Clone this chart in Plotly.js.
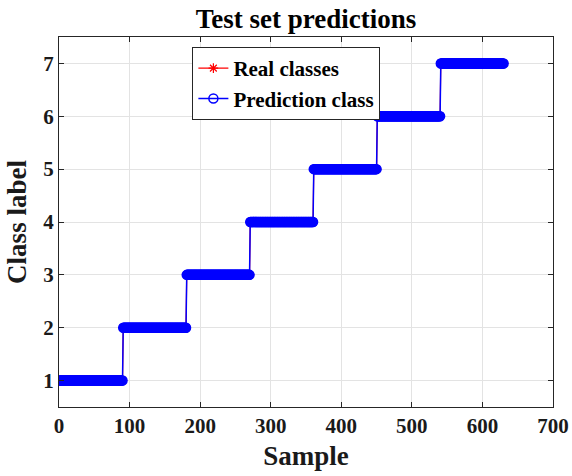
<!DOCTYPE html>
<html>
<head>
<meta charset="utf-8">
<script src="https://cdn.plot.ly/plotly-3.0.1.min.js"></script>
<style>
  html, body { margin: 0; padding: 0; background: #fff; }
  #chart { width: 572px; height: 476px; }
</style>
</head>
<body>
<div id="chart"></div>
<script>
// Test set: each class occupies a contiguous block of samples
const classLabels = [1, 2, 3, 4, 5, 6, 7];
const samplesPerClass = [90, 90, 90, 90, 90, 90, 90];
// Predicted label for each block (every block predicted correctly)
const predictedLabels = [1, 2, 3, 4, 5, 6, 7];
const xTicks = [0, 100, 200, 300, 400, 500, 600, 700];
const yTicks = [1, 2, 3, 4, 5, 6, 7];

// Expand the per-block labels into one value per sample
function expandRuns(labels, counts) {
  const out = [];
  labels.forEach((v, i) => { for (let k = 0; k < counts[i]; k++) out.push(v); });
  return out;
}
const realY = expandRuns(classLabels, samplesPerClass);
const predY = expandRuns(predictedLabels, samplesPerClass);
const sampleIdx = realY.map((_, i) => i + 1);

const serif = 'Liberation Serif, Times New Roman, serif';
const ink = '#1a1a1a';

const traces = [
  {
    x: sampleIdx, y: realY, name: 'Real classes',
    type: 'scatter', mode: 'lines+markers',
    line: { color: '#ff0000', width: 1.2 },
    marker: { symbol: 'asterisk-open', size: 8, color: '#ff0000', line: { color: '#ff0000', width: 1.2 } }
  },
  {
    x: sampleIdx, y: predY, name: 'Prediction class',
    type: 'scatter', mode: 'lines+markers',
    line: { color: '#0000ff', width: 1.5 },
    marker: { symbol: 'circle-open', size: 9, color: '#0000ff', line: { color: '#0000ff', width: 1.5 } }
  }
];

const axisCommon = {
  showline: true, linecolor: '#262626', linewidth: 1, mirror: 'ticks',
  ticks: 'inside', ticklen: 5, tickcolor: '#262626', tickwidth: 1,
  showgrid: true, gridcolor: '#e3e3e3', gridwidth: 1, zeroline: false,
  tickfont: { family: serif, size: 21, color: ink, weight: 'bold' }
};

const layout = {
  width: 572, height: 476,
  margin: { l: 59, r: 19, t: 37, b: 69 },
  paper_bgcolor: '#ffffff', plot_bgcolor: '#ffffff',
  title: {
    text: 'Test set predictions',
    font: { family: serif, size: 27, color: '#000', weight: 'bold' },
    x: 0.535, xanchor: 'center', y: 0.96, yanchor: 'middle'
  },
  xaxis: Object.assign({}, axisCommon, {
    range: [0, 700], tickvals: xTicks, ticktext: xTicks.map(String),
    title: { text: 'Sample', font: { family: serif, size: 27, color: ink, weight: 'bold' }, standoff: 8 }
  }),
  yaxis: Object.assign({}, axisCommon, {
    range: [0.5, 7.5], tickvals: yTicks, ticktext: yTicks.map(String),
    title: { text: 'Class label', font: { family: serif, size: 27, color: ink, weight: 'bold' }, standoff: 8 }
  }),
  showlegend: true,
  legend: {
    x: 0.27, y: 0.973, xanchor: 'left', yanchor: 'top',
    bgcolor: '#ffffff', bordercolor: '#262626', borderwidth: 1,
    font: { family: serif, size: 21, color: '#000', weight: 'bold' },
    tracegroupgap: 0, itemwidth: 30
  },
  hovermode: false
};

Plotly.newPlot('chart', traces, layout, { displayModeBar: false, staticPlot: true });
</script>
</body>
</html>
